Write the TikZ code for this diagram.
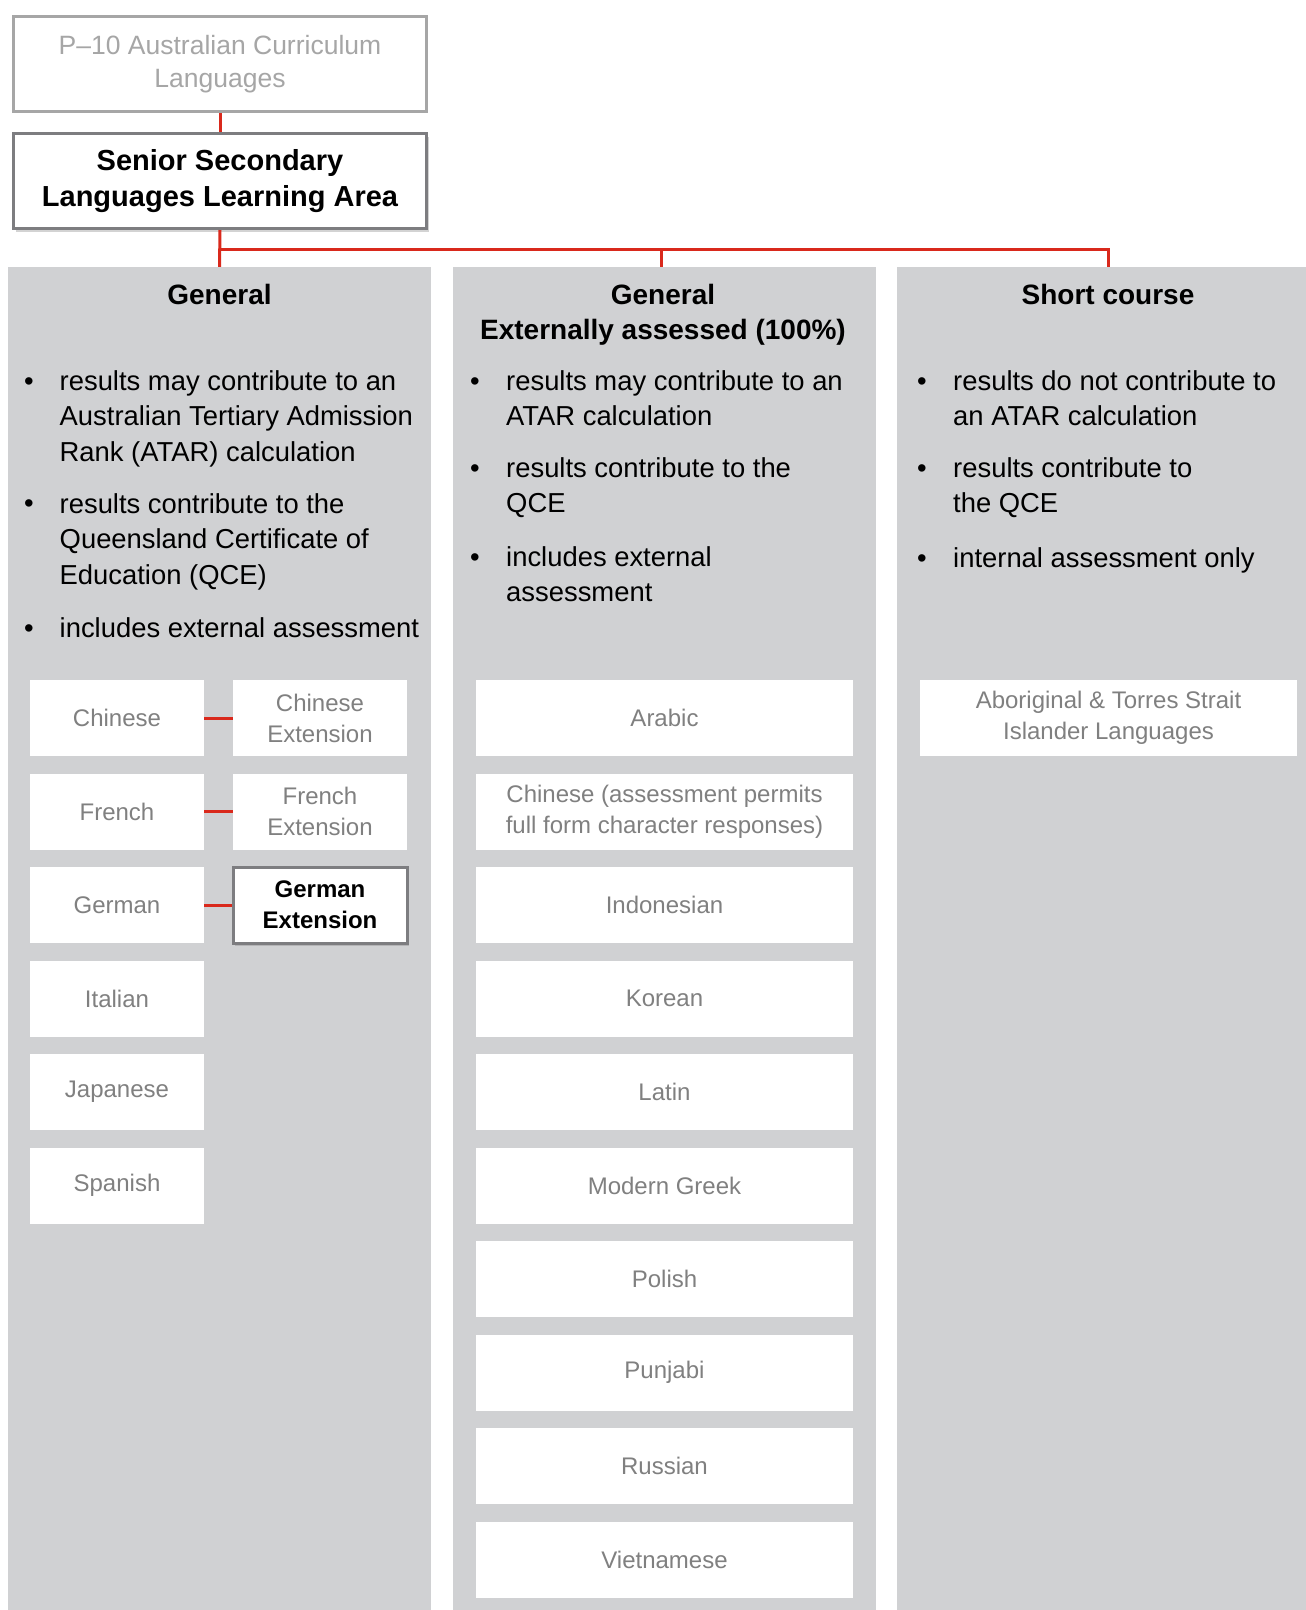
\documentclass[tikz,border=0pt]{standalone}
\usepackage{fontspec}
\setmainfont{Liberation Sans}
\usetikzlibrary{shadows}
\definecolor{panelgray}{RGB}{208,209,211}
\definecolor{boxtext}{RGB}{128,128,128}
\definecolor{palegray}{RGB}{166,166,166}
\definecolor{framegray}{RGB}{125,125,128}
\definecolor{linkred}{RGB}{217,41,28}

\begin{document}
\begin{tikzpicture}[x=1pt, y=-1pt,
        column/.style={rectangle,fill=panelgray,inner sep=0,minimum width=423pt,minimum height=1343pt},
        head/.style={anchor=base,align=center,inner sep=0,font=\fontsize{28}{35}\selectfont\bfseries},
        item/.style={anchor=base west,align=left,inner sep=0,font=\fontsize{27.4}{35.5}\selectfont},
        dot/.style={anchor=base,inner sep=0,font=\fontsize{27.4}{35}\selectfont},
        lang/.style={rectangle,fill=white,inner sep=0,minimum height=76pt,align=center,
      text=boxtext,font=\fontsize{24}{31}\selectfont},
        short/.style={lang,minimum width=174pt},
        wide/.style={lang,minimum width=377pt},
        picked/.style={draw=framegray,line width=3pt,text=black,font=\fontsize{24}{31}\selectfont\bfseries,
      drop shadow={opacity=0.35,shadow xshift=2pt,shadow yshift=-3pt}},
        link/.style={draw=linkred,line width=3pt}]

	\useasboundingbox (0,0) rectangle (1306,1610);

	% top of the tree
        \node [rectangle,draw=palegray,line width=3pt,fill=white,minimum width=413pt,minimum height=95pt,
      align=center,text=palegray,font=\fontsize{26.5}{33}\selectfont] (p10) at (220,64)
      {P--10 Australian Curriculum\\Languages};
        \node [rectangle,draw=framegray,line width=3pt,fill=white,minimum width=413pt,minimum height=95pt,
      align=center,font=\fontsize{29}{36}\selectfont\bfseries,
      drop shadow={opacity=0.35,shadow xshift=2pt,shadow yshift=-3pt}] (senior) at (220,181)
      {Senior Secondary\\Languages Learning Area};

	% the three panels
        \node [column] (colA) at (219.5,938.5) {};
        \node [column] (colB) at (664,938.5) {};
        \node [column] (colC) at (1108,938.5) {};

        \coordinate (split) at (220,249);
        \path [link] (p10) edge (senior);
        \path [link] (senior.south) edge (colA.north);
        \draw [link] (split) -| (colC.north);
        \draw [link] (split -| 661,0) -- ([xshift=-3pt]colB.north);

	% headings (base = last line)
        \node [head] (hA) at (219.5,304) {General};
        \node [head] (hB) at (663,339) {General\\Externally assessed (100\%)};
        \node [head] (hC) at (1108,304) {Short course};

	% bullet points (dot on first line, text placed by its last line)
        \node [dot] (dA1) at (29,390) {\textbullet};
        \node [item] (iA1) at (59.5,461) {results may contribute to an\\Australian Tertiary Admission\\Rank (ATAR) calculation};
        \node [dot] (dA2) at (29,512) {\textbullet};
        \node [item] (iA2) at (59.5,584) {results contribute to the\\Queensland Certificate of\\Education (QCE)};
        \node [dot] (dA3) at (29,637) {\textbullet};
        \node [item] (iA3) at (59.5,637) {includes external assessment};

        \node [dot] (dB1) at (475,390) {\textbullet};
        \node [item] (iB1) at (506,425.5) {results may contribute to an\\ATAR calculation};
        \node [dot] (dB2) at (475,477) {\textbullet};
        \node [item] (iB2) at (506,512.5) {results contribute to the\\QCE};
        \node [dot] (dB3) at (475,566) {\textbullet};
        \node [item] (iB3) at (506,601.5) {includes external\\assessment};

        \node [dot] (dC1) at (922,390) {\textbullet};
        \node [item] (iC1) at (953,425.5) {results do not contribute to\\an ATAR calculation};
        \node [dot] (dC2) at (922,477) {\textbullet};
        \node [item] (iC2) at (953,512.5) {results contribute to\\the QCE};
        \node [dot] (dC3) at (922,567) {\textbullet};
        \node [item] (iC3) at (953,567) {internal assessment only};

	% general subjects
        \node [short] (chi) at (117,718)    {Chinese};
        \node [short] (fre) at (117,811.5)  {French};
        \node [short] (ger) at (117,905)    {German};
        \node [short] (ita) at (117,998.5)  {Italian};
        \node [short] (jap) at (117,1092)   {Japanese};
        \node [short] (spa) at (117,1185.5) {Spanish};

        \node [short] (chiX) at (320,718)   {Chinese\\Extension};
        \node [short] (freX) at (320,811.5) {French\\Extension};
        \node [short,picked] (gerX) at (320,905) {German\\Extension};

        \path [link] (chi) edge (chiX);
        \path [link] (fre) edge (freX);
        \path [link] (ger) edge (gerX);

	% externally assessed subjects
        \node [wide] (ara) at (664.5,718)    {Arabic};
        \node [wide] (chf) at (664.5,811.5)  {Chinese (assessment permits\\full form character responses)};
        \node [wide] (ind) at (664.5,905)    {Indonesian};
        \node [wide] (kor) at (664.5,998.5)  {Korean};
        \node [wide] (lat) at (664.5,1092)   {Latin};
        \node [wide] (gre) at (664.5,1185.5) {Modern Greek};
        \node [wide] (pol) at (664.5,1279)   {Polish};
        \node [wide] (pun) at (664.5,1372.5) {Punjabi};
        \node [wide] (rus) at (664.5,1466)   {Russian};
        \node [wide] (vie) at (664.5,1559.5) {Vietnamese};

	% short course
        \node [wide] (atsi) at (1108.5,718) {Aboriginal \& Torres Strait\\Islander Languages};
\end{tikzpicture}
\end{document}
